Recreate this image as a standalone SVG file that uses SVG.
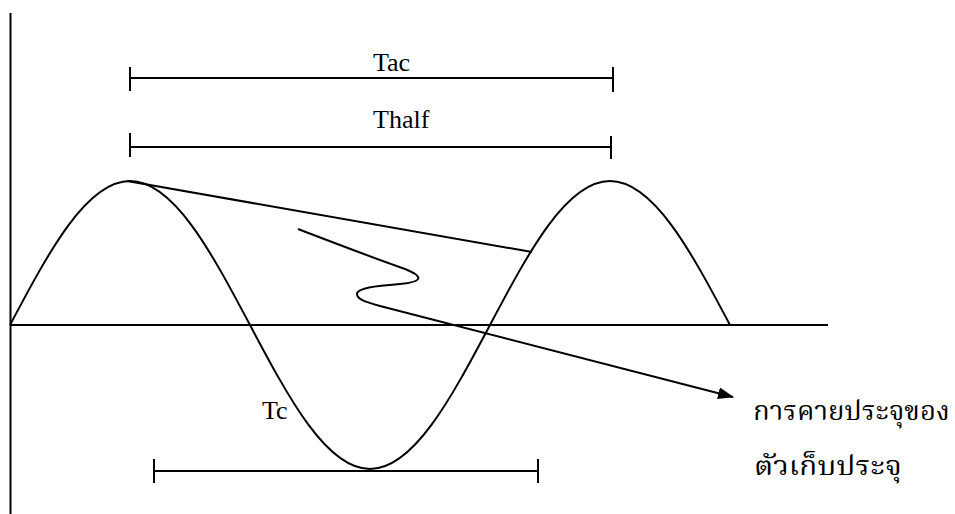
<svg xmlns="http://www.w3.org/2000/svg" width="955" height="514" viewBox="0 0 955 514">
<style>
.ln{fill:none;stroke:#000;stroke-width:2}
.lbl{font-family:"Liberation Serif","Times New Roman",serif;font-size:26px;fill:#000}
.th{font-family:"Liberation Serif","Kinnari","Norasi","Noto Serif Thai","Noto Sans Thai","DejaVu Sans",serif;font-size:27.5px;fill:#000}
</style>
<defs>
<marker id="ah" markerWidth="16" markerHeight="12" refX="15" refY="6" orient="auto" markerUnits="userSpaceOnUse">
<path d="M0,0 L16,6 L0,12 Z" fill="#000"/>
</marker>
</defs>
<rect width="955" height="514" fill="#fff"/>
<g id="axes">
<line class="ln" x1="10.5" y1="13" x2="10.5" y2="514"/>
<line class="ln" x1="10" y1="325" x2="828" y2="325"/>
</g>
<g id="wave">
<path class="ln" d="M10,325 C49.13,251.23 86.57,181 130,181 C173.43,181 210.87,251.23 250,325 C289.13,398.77 326.57,469 370,469 C413.43,469 450.87,398.77 490,325 C529.13,251.23 566.57,181 610,181 C653.43,181 690.87,251.23 730,325"/>
</g>
<g id="tac">
<line class="ln" x1="130" y1="78" x2="613" y2="78"/>
<line class="ln" x1="130" y1="67" x2="130" y2="91"/>
<line class="ln" x1="613" y1="67" x2="613" y2="92"/>
<text class="lbl" x="373" y="71">Tac</text>
</g>
<g id="thalf">
<line class="ln" x1="130" y1="147" x2="611" y2="147"/>
<line class="ln" x1="130" y1="133" x2="130" y2="157"/>
<line class="ln" x1="611" y1="136" x2="611" y2="159"/>
<text class="lbl" x="373" y="128">Thalf</text>
</g>
<g id="tc">
<line class="ln" x1="154" y1="471" x2="538" y2="471"/>
<line class="ln" x1="154" y1="459" x2="154" y2="483"/>
<line class="ln" x1="538" y1="459" x2="538" y2="483"/>
<text class="lbl" x="262" y="419">Tc</text>
</g>
<g id="connectors">
<line class="ln" x1="127" y1="181" x2="532" y2="252"/>
<path class="ln" d="M298,229 C350,249 385,262 405,269 C425,277 422,282 400,284 C375,286 357,288 357,294 C357,299 365,302 380,306 L733,397" marker-end="url(#ah)"/>
</g>
<g id="label">
<text class="th" x="753" y="420">การคายประจุของ</text>
<text class="th" x="754" y="475" textLength="148" lengthAdjust="spacingAndGlyphs">ตัวเก็บประจุ</text>
</g>
</svg>
